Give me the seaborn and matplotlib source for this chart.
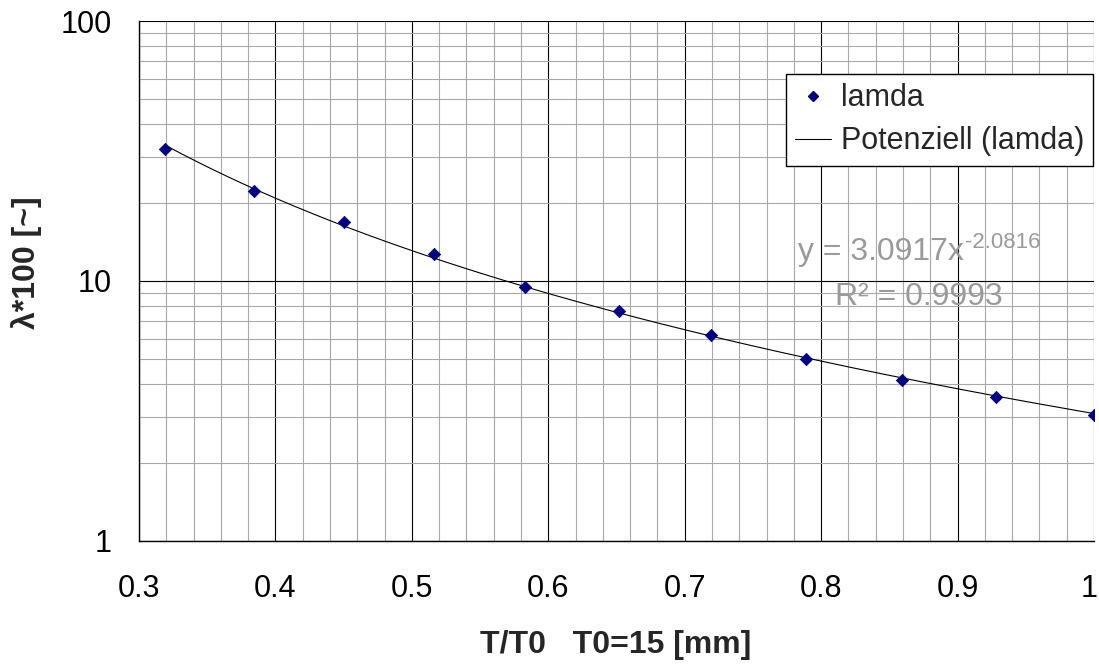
import numpy as np
import pandas as pd
import matplotlib
matplotlib.use("Agg")
import matplotlib.pyplot as plt
import matplotlib.transforms as mtransforms
import seaborn as sns
from matplotlib.ticker import FixedLocator, MultipleLocator, LogLocator, NullFormatter
from matplotlib.lines import Line2D

# Measured decay values against relative thickness
t_ratio = [0.319, 0.384, 0.450, 0.516, 0.583, 0.652, 0.719, 0.789, 0.859, 0.928, 1.0]
lamda = [32.2, 22.2, 16.9, 12.7, 9.48, 7.66, 6.20, 5.01, 4.16, 3.58, 3.05]

# Power-law trend line y = a * x^b
coef_a = 3.0917
coef_b = -2.0816
r_squared = 0.9993

x_ticks = [0.3, 0.4, 0.5, 0.6, 0.7, 0.8, 0.9, 1.0]
x_tick_labels = ["0.3", "0.4", "0.5", "0.6", "0.7", "0.8", "0.9", "1"]
y_ticks = [1, 10, 100]
y_tick_labels = ["1", "10", "100"]

sns.set_theme(style="white")
plt.rcParams["font.family"] = ["Liberation Sans", "DejaVu Sans"]

FS = 22
FS_LABEL = 23
GRAY_TEXT = "#9a9a9a"

fig = plt.figure(figsize=(10.99, 6.65), dpi=100)
ax = fig.add_axes([0.12648, 0.18647, 0.86897, 0.78195])

df = pd.DataFrame({"x": t_ratio, "y": lamda})
x_fit = np.linspace(min(t_ratio), max(t_ratio), 300)
fit = pd.DataFrame({"x": x_fit, "y": coef_a * x_fit ** coef_b})

sns.lineplot(data=fit, x="x", y="y", ax=ax, color="black", lw=0.8, zorder=3)
sns.scatterplot(data=df, x="x", y="y", ax=ax, marker="D", s=40,
                color="#000080", edgecolor="#000080", linewidth=0.5, zorder=4)

ax.set_yscale("log")
ax.set_xlim(0.3, 1.0)
ax.set_ylim(1, 100)

ax.xaxis.set_major_locator(FixedLocator(x_ticks))
ax.set_xticklabels(x_tick_labels)
ax.xaxis.set_minor_locator(MultipleLocator(0.02))
ax.yaxis.set_major_locator(FixedLocator(y_ticks))
ax.set_yticklabels(y_tick_labels)
ax.yaxis.set_minor_locator(LogLocator(base=10, subs=np.arange(2, 10)))
ax.yaxis.set_minor_formatter(NullFormatter())

ax.grid(which="major", color="black", lw=0.8, zorder=1)
ax.grid(which="minor", color="#a8a8a8", lw=0.8, zorder=0)
ax.set_axisbelow(True)

ax.tick_params(axis="both", which="major", direction="out", length=7.5,
               width=0.8, color="black", labelsize=FS, labelcolor="black")
ax.tick_params(axis="x", which="major", pad=16)
ax.tick_params(axis="y", which="major", pad=12)
ax.tick_params(which="minor", length=0)

# keep the last x label inside the figure edge
last = ax.get_xticklabels()[-1]
last.set_horizontalalignment("right")
last.set_transform(last.get_transform() +
                   mtransforms.ScaledTranslation(4 / 100, 0, fig.dpi_scale_trans))

for side in ("top", "right"):
    ax.spines[side].set_visible(False)
for side in ("left", "bottom"):
    ax.spines[side].set_color("black")
    ax.spines[side].set_linewidth(1.0)

ax.set_xlabel("T/T0   T0=15 [mm]", fontsize=FS_LABEL, fontweight="bold", va="center")
ax.set_ylabel("λ*100 [~]", fontsize=FS_LABEL, fontweight="bold", va="center")
ax.xaxis.set_label_coords(0.499, -0.20)
ax.yaxis.set_label_coords(-0.1173, 0.535)

# Legend
handles = [
    Line2D([], [], ls="none", marker="D", markersize=5.5, color="#000080"),
    Line2D([], [], color="black", lw=0.8),
]
leg = ax.legend(handles, ["lamda", "Potenziell (lamda)"], loc="upper right",
                bbox_to_anchor=(0.999, 0.898), fontsize=FS, frameon=True,
                fancybox=False, framealpha=1, edgecolor="black",
                handlelength=1.18, handletextpad=0.3, labelspacing=0.43,
                borderpad=0.3, borderaxespad=0)
leg.get_frame().set_linewidth(1.0)

# Trend line equation and coefficient of determination
eq = ax.text(0.690, 0.540, f"y = {coef_a:.4f}x", transform=ax.transAxes,
             fontsize=23, color=GRAY_TEXT, ha="left", va="baseline", zorder=5)
ax.annotate(f"{coef_b:.4f}", xy=(1.0, 1.0), xycoords=eq, fontsize=16,
            color=GRAY_TEXT, ha="left", va="top", xytext=(1, 4),
            textcoords="offset points", zorder=5)
ax.text(0.7288, 0.454, f"R² = {r_squared:.4f}", transform=ax.transAxes,
        fontsize=23, color=GRAY_TEXT, ha="left", va="baseline", zorder=5)

fig.savefig("out.png", dpi=100)
